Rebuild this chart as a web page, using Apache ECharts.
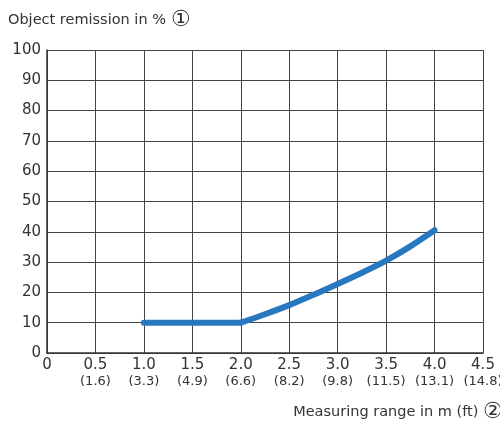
<!DOCTYPE html>
<html>
<head>
<meta charset="utf-8">
<script src="https://cdn.jsdelivr.net/npm/echarts@6/dist/echarts.min.js"></script>
<style>
html,body{margin:0;padding:0;background:#fff;}
#chart{width:500px;height:424px;}
</style>
</head>
<body>
<div id="chart"></div>
<script>
// Measuring range in metres and the matching feet values shown under each tick
const flatM = [1.0, 2.0];
const flatRemission = [10, 10];
const curveM = [2.0, 2.25, 2.5, 2.75, 3.0, 3.25, 3.5, 3.75, 4.0];
const curveRemission = [10, 12.8, 15.8, 19.2, 22.8, 26.5, 30.5, 35.2, 40.5];
const tickM = [0, 0.5, 1.0, 1.5, 2.0, 2.5, 3.0, 3.5, 4.0, 4.5];
const tickFt = ['', '1.6', '3.3', '4.9', '6.6', '8.2', '9.8', '11.5', '13.1', '14.8'];

const font = '"DejaVu Sans", sans-serif';
const circleFont = '"DejaVu Serif", serif';
const ink = '#333';
const blue = '#2878c0';
const chart = echarts.init(document.getElementById('chart'));

const lineStyle = { color: blue, width: 6, cap: 'round', join: 'round' };

chart.setOption({
  animation: false,
  backgroundColor: '#fff',
  grid: { left: 47, top: 50, right: 17, bottom: 71, containLabel: false, outerBoundsMode: 'none' },
  graphic: [
    {
      type: 'text', x: 8, y: 20,
      style: {
        textVerticalAlign: 'middle',
        rich: {
          t: { fontSize: 14.5, fontFamily: font, fill: ink },
          c: { fontSize: 22, fontFamily: circleFont, fill: ink }
        },
        text: '{t|Object remission in % }{c|①}'
      }
    },
    {
      type: 'text', x: 503, y: 412,
      style: {
        textAlign: 'right', textVerticalAlign: 'middle',
        rich: {
          t: { fontSize: 14.5, fontFamily: font, fill: ink },
          c: { fontSize: 22, fontFamily: circleFont, fill: ink }
        },
        text: '{t|Measuring range in m (ft) }{c|②}'
      }
    }
  ],
  xAxis: {
    type: 'value', min: 0, max: 4.5, interval: 0.5,
    axisLine: { show: true, lineStyle: { color: ink, width: 1.5 } },
    axisTick: { show: false },
    splitLine: { show: true, lineStyle: { color: '#444', width: 1 } },
    axisLabel: {
      margin: 4,
      showMaxLabel: true,
      formatter: function (v) {
        const i = tickM.findIndex(t => Math.abs(t - v) < 1e-6);
        const m = v === 0 ? '0' : v.toFixed(1);
        const ft = i >= 0 ? tickFt[i] : '';
        return '{m|' + m + '}\n{f|' + (ft ? '(' + ft + ')' : ' ') + '}';
      },
      rich: {
        m: { fontSize: 15, fontFamily: font, color: ink, lineHeight: 17 },
        f: { fontSize: 13, fontFamily: font, color: ink, lineHeight: 15 }
      }
    }
  },
  yAxis: {
    type: 'value', min: 0, max: 100, interval: 10,
    axisLine: { show: true, lineStyle: { color: ink, width: 1.5 } },
    axisTick: { show: false },
    splitLine: { show: true, lineStyle: { color: '#444', width: 1 } },
    axisLabel: { margin: 6, fontSize: 15, fontFamily: font, color: ink }
  },
  series: [
    {
      type: 'line',
      data: flatM.map((x, i) => [x, flatRemission[i]]),
      showSymbol: false,
      lineStyle: lineStyle
    },
    {
      type: 'line',
      data: curveM.map((x, i) => [x, curveRemission[i]]),
      smooth: 0.3,
      showSymbol: false,
      lineStyle: lineStyle
    }
  ]
});
</script>
</body>
</html>
